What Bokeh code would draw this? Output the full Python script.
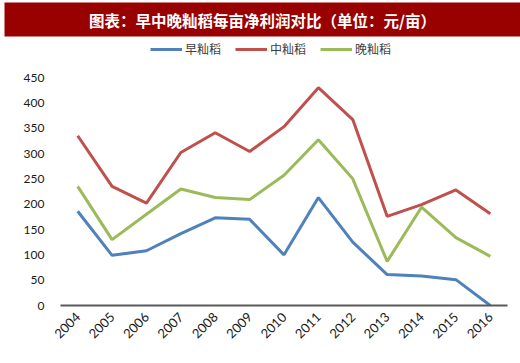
from bokeh.plotting import figure
from bokeh.models import (Legend, LegendItem, FactorRange, Range1d, FixedTicker)
from bokeh.layouts import column
from bokeh.core.properties import value
from bokeh.embed import file_html
from bokeh.resources import INLINE
import math

title_text = "图表：早中晚籼稻每亩净利润对比（单位：元/亩）"
years = ["2004", "2005", "2006", "2007", "2008", "2009", "2010",
         "2011", "2012", "2013", "2014", "2015", "2016"]
early_rice = [186, 99, 108, 142, 173, 170, 100, 213, 125, 61, 58, 51, 0]
mid_rice = [335, 235, 202, 302, 341, 304, 353, 430, 367, 176, 199, 228, 181]
late_rice = [235, 130, 180, 230, 213, 209, 257, 327, 250, 87, 194, 134, 97]
series_names = ["早籼稻", "中籼稻", "晚籼稻"]
series_colors = ["#4F81BD", "#C0504D", "#9BBB59"]
y_ticks = [0, 50, 100, 150, 200, 250, 300, 350, 400, 450]

W = 520
HEAD_H = 65

# ---------- header: title banner + legend ----------
head = figure(width=W, height=HEAD_H, x_range=Range1d(0, W),
              y_range=Range1d(HEAD_H, 0), output_backend="svg",
              toolbar_location=None, min_border=0,
              min_border_left=0, min_border_right=0,
              min_border_top=0, min_border_bottom=0,
              x_axis_location=None, y_axis_location=None)
head.frame_align = False
head.outline_line_color = None
head.xgrid.visible = False
head.ygrid.visible = False
head.quad(left=[4], right=[W], top=[2], bottom=[36], fill_color="#990000",
          line_color=None)
head.text(x=[262], y=[19], text=[title_text], text_align="center",
          text_baseline="middle", text_color="white",
          text_font=value("Noto Sans CJK SC"), text_font_style="bold",
          text_font_size="15.5px")
dummy = []
for col in series_colors:
    dummy.append(head.line(x=[float("nan")], y=[float("nan")], line_width=3,
                           line_color=col))
legend = Legend(items=[LegendItem(label=n, renderers=[r])
                       for n, r in zip(series_names, dummy)],
                orientation="horizontal", location=(150, 8),
                glyph_width=32, glyph_height=14, label_height=14,
                label_standoff=3, spacing=14, padding=0, margin=0,
                border_line_color=None, background_fill_alpha=0,
                label_text_font="Noto Sans CJK SC", label_text_font_size="12px",
                label_text_color="#404040")
head.add_layout(legend)

# ---------- chart ----------
p = figure(width=W, height=363 - HEAD_H, x_range=FactorRange(*years),
           y_range=Range1d(0, 450), output_backend="svg", toolbar_location=None,
           min_border_left=60, min_border_right=13, min_border_top=12,
           min_border_bottom=58)
p.frame_align = False
p.outline_line_color = None
p.xgrid.visible = False
p.ygrid.visible = False

for vals, col in zip([early_rice, mid_rice, late_rice], series_colors):
    p.line(x=years, y=vals, line_width=3, line_color=col)

p.yaxis.ticker = FixedTicker(ticks=y_ticks)
p.yaxis.axis_line_color = None
p.yaxis.major_tick_line_color = None
p.yaxis.major_tick_out = 0
p.yaxis.minor_tick_line_color = None
p.yaxis.minor_tick_out = 0
p.yaxis.major_label_text_font = "Lato"
p.yaxis.major_label_text_font_size = "12px"
p.yaxis.major_label_text_color = "#1a1a1a"
p.yaxis.major_label_standoff = 16

p.xaxis.axis_line_color = "#595959"
p.xaxis.axis_line_width = 2
p.xaxis.major_tick_line_color = None
p.xaxis.major_tick_out = 0
p.xaxis.minor_tick_line_color = None
p.xaxis.major_label_orientation = math.pi / 4
p.xaxis.major_label_text_font = "Lato"
p.xaxis.major_label_text_font_size = "13px"
p.xaxis.major_label_text_color = "#1a1a1a"
p.xaxis.major_label_standoff = 9

layout = column(head, p, spacing=0)
open("out.html", "w").write(file_html(layout, INLINE))
